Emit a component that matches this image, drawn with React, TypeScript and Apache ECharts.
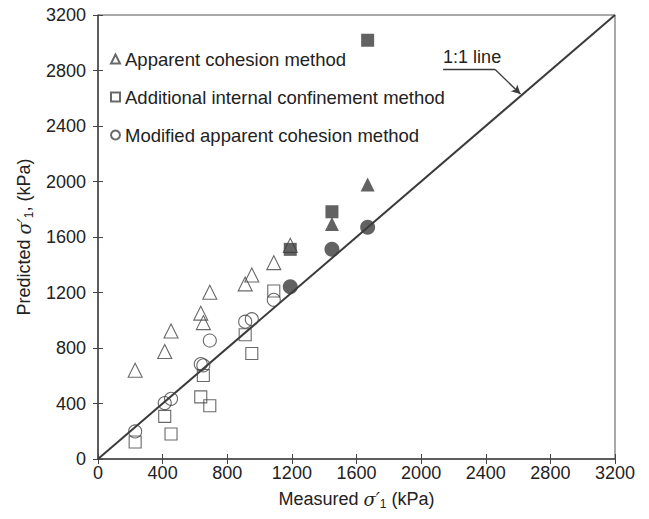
import React, { useEffect, useRef } from "react";
import * as echarts from "echarts";

// Measured σ'1 (kPa) for the open-symbol tests
const measuredOpen = [230, 413, 452, 636, 652, 692, 911, 952, 1088];
// Predicted values (kPa), open symbols
const apparentOpen = [640, 775, 923, 1051, 983, 1202, 1262, 1326, 1415];
const apparentExtraX = [1190];
const apparentExtraY = [1540];
const additionalOpen = [122, 307, 180, 448, 602, 384, 895, 760, 1211];
const modifiedOpen = [199, 403, 434, 684, 675, 854, 990, 1008, 1147];
// Filled symbols
const measuredFilled = [1190, 1448, 1669];
const apparentFilledX = [1448, 1669];
const apparentFilledY = [1693, 1979];
const additionalFilled = [1511, 1782, 3018];
const modifiedFilled = [1242, 1511, 1670];
// Axis
const axisTicks = [0, 400, 800, 1200, 1600, 2000, 2400, 2800, 3200];
const seriesNames = [
  "Apparent cohesion method",
  "Additional internal confinement method",
  "Modified apparent cohesion method",
];
// 1:1 line annotation anchors (data coordinates)
const annotText = "1:1 line";
const annotUnderline = [[2136, 2807], [2458, 2807]];
const annotArrow = [[2458, 2807], [2615, 2630]];
const annotTextPos = [2136, 2895];

const FONT = "'Liberation Sans', Arial, sans-serif";
const DARK = "#3b3b3b";
const LINE = "#444";

const zip = (xs: number[], ys: number[]) => xs.map((x, i) => [x, ys[i]]);

export default function App() {
  const ref = useRef<HTMLDivElement>(null);
  useEffect(() => {
    document.body.style.margin = "0";
    if (!ref.current) return;
    const chart = echarts.init(ref.current, null, { renderer: "svg" });
    const openStyle = { color: "rgba(0,0,0,0)", borderColor: LINE, borderWidth: 1.1 };
    const filledStyle = { color: DARK, borderColor: DARK, borderWidth: 0 };
    const rich = {
      i: { fontFamily: "'DejaVu Serif', serif", fontStyle: "italic", fontSize: 18, color: "#222" },
      sub: { fontSize: 12, color: "#222", padding: [10, 0, 0, 0] },
    };
    const baseAxis = (name: string, isY: boolean) => ({
      type: "value",
      min: 0,
      max: 3200,
      interval: 400,
      name,
      nameLocation: "middle",
      nameGap: isY ? 62 : 29,
      nameTextStyle: { fontFamily: FONT, fontSize: 18, color: "#222", rich },
      axisLine: { show: true, onZero: false, lineStyle: { color: LINE, width: 1.5 } },
      axisTick: { show: true, length: 5, lineStyle: { color: LINE, width: 1 } },
      axisLabel: {
        fontFamily: FONT,
        fontSize: 18,
        color: "#222",
        margin: isY ? 12 : 5,
        formatter: (v: number) => (axisTicks.includes(v) ? String(v) : ""),
      },
      splitLine: { show: false },
    });
    const innerAxis = (isY: boolean) => ({
      type: "value",
      min: 0,
      max: 3200,
      interval: 400,
      position: isY ? "left" : "bottom",
      axisLine: { show: false },
      axisTick: { show: true, inside: true, length: 5, lineStyle: { color: LINE, width: 1 } },
      axisLabel: { show: false },
      splitLine: { show: false },
    });
    chart.setOption({
      animation: false,
      grid: {
        left: 98,
        right: 34,
        top: 15,
        bottom: 60,
        show: true,
        borderColor: "#555",
        borderWidth: 1,
        backgroundColor: "transparent",
      },
      legend: {
        data: seriesNames,
        orient: "vertical",
        left: 105,
        top: 44,
        itemWidth: 9,
        itemHeight: 9,
        itemGap: 18,
        textStyle: { fontFamily: FONT, fontSize: 18.5, color: "#222", lineHeight: 20 },
      },
      xAxis: [
        baseAxis("Measured {i|σ′}{sub|1} (kPa)", false),
        innerAxis(false),
      ],
      yAxis: [
        baseAxis("Predicted {i|σ′}{sub|1}, (kPa)", true),
        innerAxis(true),
      ],
      series: [
        {
          type: "line",
          data: [[0, 0], [3200, 3200]],
          symbol: "none",
          lineStyle: { color: DARK, width: 2 },
          silent: true,
          z: 1,
          markLine: {
            silent: true,
            symbol: ["none", "none"],
            lineStyle: { color: DARK, width: 1.3, type: "solid" },
            label: { show: false },
            data: [
              [{ coord: annotUnderline[0] }, { coord: annotUnderline[1] }],
            ],
          },
        },
        {
          type: "scatter",
          data: [],
          silent: true,
          markLine: {
            silent: true,
            symbol: ["none", "arrow"],
            symbolSize: [7, 9],
            lineStyle: { color: DARK, width: 1.3, type: "solid" },
            label: { show: false },
            data: [[{ coord: annotArrow[0] }, { coord: annotArrow[1] }]],
          },
        },
        {
          name: seriesNames[0],
          type: "scatter",
          symbol: "triangle",
          symbolSize: 14,
          itemStyle: openStyle,
          data: [...zip(measuredOpen, apparentOpen), ...zip(apparentExtraX, apparentExtraY)],
          z: 2,
        },
        {
          name: seriesNames[1],
          type: "scatter",
          symbol: "rect",
          symbolSize: 12,
          itemStyle: openStyle,
          data: zip(measuredOpen, additionalOpen),
          z: 2,
        },
        {
          name: seriesNames[2],
          type: "scatter",
          symbol: "circle",
          symbolSize: 13,
          itemStyle: openStyle,
          data: zip(measuredOpen, modifiedOpen),
          z: 2,
        },
        {
          type: "scatter",
          symbol: "triangle",
          symbolSize: 14,
          itemStyle: filledStyle,
          data: zip(apparentFilledX, apparentFilledY),
          z: 3,
        },
        {
          type: "scatter",
          symbol: "rect",
          symbolSize: 13,
          itemStyle: filledStyle,
          data: zip(measuredFilled, additionalFilled),
          z: 3,
        },
        {
          type: "scatter",
          symbol: "circle",
          symbolSize: 15,
          itemStyle: filledStyle,
          data: zip(measuredFilled, modifiedFilled),
          z: 3,
        },
      ],
    });
    const p = chart.convertToPixel({ gridIndex: 0 }, annotTextPos) as number[];
    chart.setOption({
      graphic: [
        {
          type: "text",
          x: p[0],
          y: p[1],
          style: {
            text: annotText,
            font: `18px ${FONT}`,
            fill: "#222",
            verticalAlign: "middle",
            align: "left",
          },
        },
      ],
    });
    return () => chart.dispose();
  }, []);
  return <div ref={ref} style={{ width: 649, height: 519 }} />;
}
